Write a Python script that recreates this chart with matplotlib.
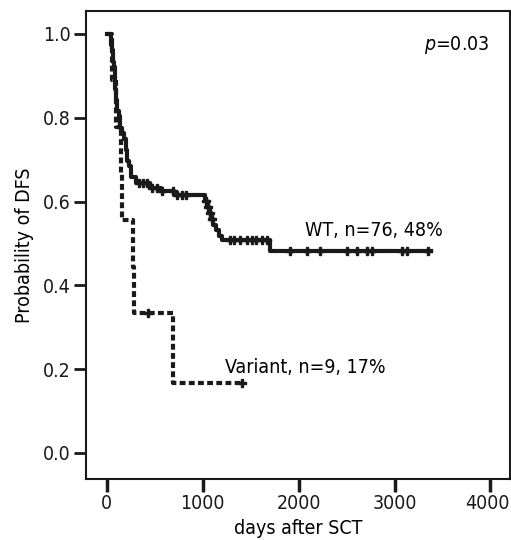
import numpy as np
import matplotlib.pyplot as plt
import matplotlib.transforms as mtransforms

# Kaplan-Meier steps (days, survival after the step)
wt_time = [0, 40, 48, 55, 60, 65, 72, 80, 90, 100, 110, 125, 140, 160, 180,
           200, 215, 230, 250, 300, 450, 560, 700, 1020, 1045, 1065, 1085,
           1110, 1140, 1170, 1200, 1700]
wt_surv = [1.0, 0.987, 0.974, 0.961, 0.947, 0.934, 0.921, 0.895, 0.868, 0.842,
           0.816, 0.803, 0.776, 0.763, 0.750, 0.724, 0.697, 0.684, 0.658,
           0.645, 0.632, 0.625, 0.615, 0.601, 0.587, 0.573, 0.559, 0.545,
           0.531, 0.517, 0.508, 0.481]
wt_end = 3385
wt_censor = [340, 380, 420, 470, 520, 570, 690, 730, 780, 830, 1030, 1050,
             1075, 1100, 1280, 1330, 1385, 1460, 1510, 1560, 1620, 1670,
             1906, 2083, 2219, 2500, 2604, 2708, 2770, 3083, 3125, 3344]

var_time = [0, 50, 100, 150, 160, 270, 285, 690]
var_surv = [1.0, 0.889, 0.778, 0.667, 0.556, 0.444, 0.333, 0.167]
var_end = 1410
var_censor = [430, 1410]

xticks = [0, 1000, 2000, 3000, 4000]
yticks = [0.0, 0.2, 0.4, 0.6, 0.8, 1.0]

plt.rcParams['font.family'] = ['DejaVu Sans']
plt.rcParams['font.stretch'] = 'condensed'
plt.rcParams['font.size'] = 14


def step_xy(t, s, end):
    x = list(t) + [end]
    y = list(s) + [s[-1]]
    return x, y


def surv_at(t, s, c):
    idx = np.searchsorted(t, c, side='right') - 1
    return np.array(s)[idx]


fig = plt.figure(figsize=(5.11, 5.40), dpi=100)
ax = fig.add_axes([0.168, 0.113, 0.830, 0.867])

x, y = step_xy(wt_time, wt_surv, wt_end)
ax.step(x, y, where='post', color='#1a1a1a', lw=3)
ax.plot(wt_censor, surv_at(wt_time, wt_surv, wt_censor), ls='none',
        marker='P', ms=6, color='#1a1a1a')

x, y = step_xy(var_time, var_surv, var_end)
ax.step(x, y, where='post', color='#1a1a1a', lw=3, ls=(0, (1.4, 0.8)))
ax.plot(var_censor, surv_at(var_time, var_surv, var_censor), ls='none',
        marker='P', ms=6, color='#1a1a1a')

ax.set_xlim(-219, 4204)
ax.set_ylim(-0.062, 1.055)
ax.set_xticks(xticks)
ax.set_yticks(yticks)
ax.set_yticklabels([f'{v:.1f}' for v in yticks])
ax.tick_params(direction='out', length=9, width=2, pad=2, colors='#1a1a1a')
ax.tick_params(axis='x', width=2.5)
for sp in ax.spines.values():
    sp.set_linewidth(1.5)
    sp.set_color('#1a1a1a')

# last x label sits right at the figure edge, pull it in a touch
last = ax.get_xticklabels()[-1]
last.set_transform(last.get_transform() +
                   mtransforms.ScaledTranslation(-3 / 100, 0, fig.dpi_scale_trans))

ax.set_xlabel('days after SCT', labelpad=4)
ax.set_ylabel('Probability of DFS', labelpad=6)

ax.text(3312, 0.974, r'$p$=0.03', ha='left', va='center')
ax.text(2062, 0.532, 'WT, n=76, 48%', ha='left', va='center')
ax.text(1229, 0.205, 'Variant, n=9, 17%', ha='left', va='center')

plt.savefig('out.png', dpi=100)
